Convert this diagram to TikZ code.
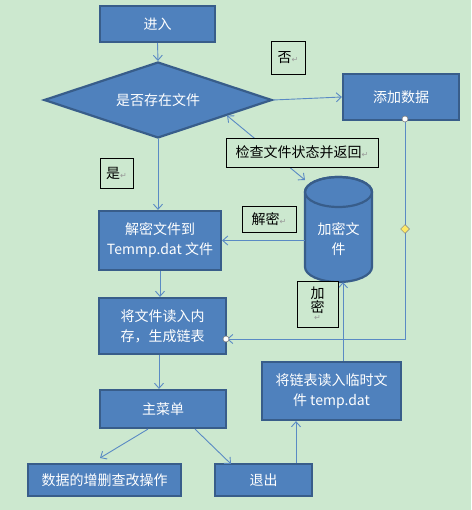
\documentclass[tikz,border=0pt]{standalone}
\usepackage{fontspec}
\setmainfont{Noto Sans CJK SC}
\newfontfamily\symf{DejaVu Sans}
\usetikzlibrary{arrows.meta,shapes.geometric,calc}
\definecolor{bg}{HTML}{CCE8CF}
\definecolor{boxfill}{HTML}{4F81BD}
\definecolor{boxline}{HTML}{385D8A}
\definecolor{connc}{HTML}{5A8AC4}
\newcommand\retmark{{\symf\color{gray!80}\fontsize{8}{8}\selectfont ↵}}
\tikzset{
  fbox/.style={draw=boxline, line width=2.2pt, fill=boxfill, text=white,
    font=\fontsize{14}{20}\selectfont, inner sep=0pt, align=center},
  lab/.style={draw=black, line width=0.7pt, fill=bg, inner sep=0pt, text=black,
    font=\fontsize{14}{17}\selectfont, align=center},
  conn/.style={draw=connc, line width=0.9pt, -{Straight Barb[length=5pt,width=9pt]}},
  handle/.style={circle, draw=gray, fill=white, line width=0.6pt, minimum size=6pt, inner sep=0pt},
}
\begin{document}
\begin{tikzpicture}[x=1pt,y=-1pt]
\useasboundingbox[fill=bg] (0,0) rectangle (471,510);

% nodes
\node[fbox, minimum width=115pt, minimum height=36pt] (enter) at (157.5,24) {进入};
\node[fbox, diamond, aspect=3, minimum width=228pt, minimum height=76pt] (dia) at (158,100) {是否存在文件};
\node[fbox, minimum width=116pt, minimum height=46pt] (add) at (401,97) {添加数据};
\node[fbox, minimum width=122pt, minimum height=59pt] (dec) at (160,240.5) {解密文件到\\Temmp.dat 文件};
\node[fbox, minimum width=127pt, minimum height=56pt] (read) at (162.5,326) {将文件读入内\\存，生成链表};
\node[fbox, minimum width=139pt, minimum height=58pt] (tmp) at (331.5,391) {将链表读入临时文\\件 temp.dat};
\node[fbox, minimum width=126pt, minimum height=38pt] (menu) at (163,409) {主菜单};
\node[fbox, minimum width=153pt, minimum height=32pt] (crud) at (104.5,480) {数据的增删查改操作};
\node[fbox, minimum width=97pt, minimum height=32pt] (exit) at (263.5,480) {退出};

% cylinder
\path[fill=boxfill, draw=boxline, line width=2.2pt]
  (305,192) -- (305,267) arc[start angle=180, end angle=0, x radius=33.5, y radius=15]
  -- (372,192) arc[start angle=0, end angle=-180, x radius=33.5, y radius=15] -- cycle;
\draw[boxline, line width=2.2pt] (338.5,192) ellipse[x radius=33.5, y radius=15];
\node[inner sep=0pt, minimum width=67pt, minimum height=105pt, text=white,
  font=\fontsize{14}{20}\selectfont, align=center, text depth=0pt] (cyl) at (338.5,229.5) {};
\node[text=white, font=\fontsize{14}{20}\selectfont, align=center, inner sep=0pt] (cyltext) at (338.5,239) {加密文\\件};

% connectors
\draw[conn] (enter.south) -- (dia.north);
\draw[conn] (dia.east) -- (add.west);
\draw[conn] (dia.south) -- (dia.south |- dec.north);
\coordinate (dedge) at ($(dia.east)!0.4!(dia.south)$);
\coordinate (ctop) at (305,180);
\draw[conn, {Straight Barb[length=5pt,width=9pt]}-{Straight Barb[length=5pt,width=9pt]}] (ctop) -- (dedge);
\draw[conn] (dec.east -| cyl.west) -- (dec.east);
\draw[conn] (dec.south) -- (dec.south |- read.north);
\coordinate (addb) at ($(add.south)+(4,0)$);
\coordinate (reade) at ($(read.east)+(0,13)$);
\draw[conn] (addb) |- (reade);
\coordinate (tmpn) at ($(tmp.north)+(11.5,0)$);
\draw[conn] (tmpn) -- (tmpn |- cyl.south);
\coordinate (reads) at ($(read.south)+(-3.5,0)$);
\draw[conn] (reads) -- (reads |- menu.north);
\coordinate (m1) at ($(menu.south)+(-15,0)$);
\coordinate (c1) at (100,458);
\draw[conn] (m1) -- (c1);
\coordinate (m2) at ($(menu.south)+(32,0)$);
\coordinate (x1) at (231,464);
\draw[conn] (m2) -- (x1);
\coordinate (exn) at ($(exit.north)+(32.5,0)$);
\draw[conn] (exn) -- (exn |- tmp.south);

% labels
\node[lab, minimum width=34pt, minimum height=33pt] (no) at (288,57.5) {否\retmark};
\node[lab, minimum width=152pt, minimum height=29pt] (chk) at (302,152.5) {检查文件状态并返回\retmark};
\node[lab, minimum width=33pt, minimum height=30pt] (yes) at (116.5,173) {是\retmark};
\node[lab, minimum width=54pt, minimum height=26pt] (declab) at (269,219) {解密\retmark};
\node[lab, minimum width=41pt, minimum height=46pt, font=\fontsize{14}{14}\selectfont] (enclab) at (317.5,304) {加\\密\\[-6pt]\retmark};

% selection handles
\node[handle] (h1) at (405,119) {};
\node[handle] (h2) at (226,339) {};
\node[diamond, draw=gray, fill=yellow!80!orange!60, line width=0.5pt, minimum size=9pt, inner sep=0pt] (h3) at (405,229) {};
\end{tikzpicture}
\end{document}
